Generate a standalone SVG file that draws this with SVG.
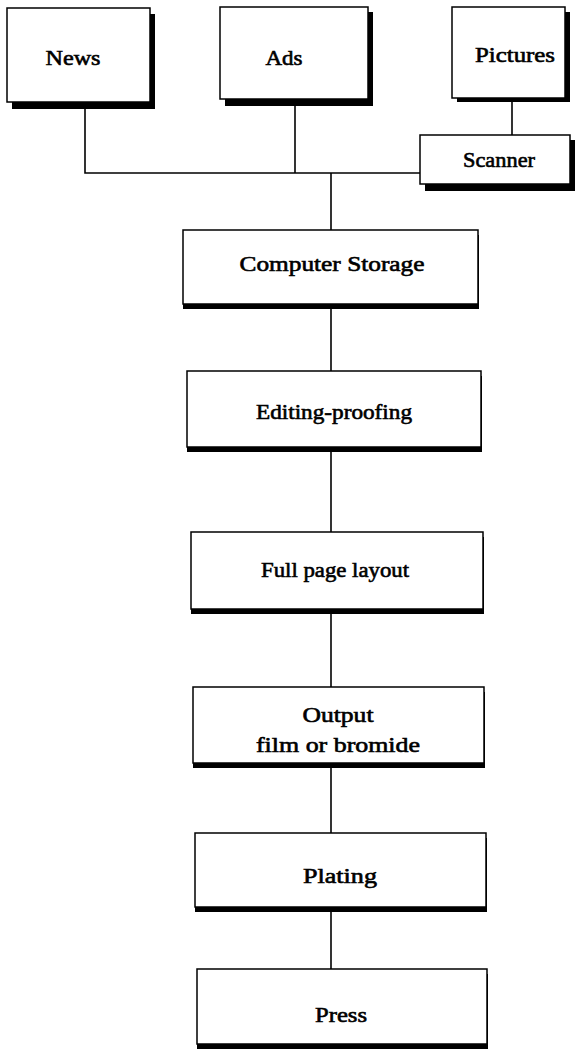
<svg xmlns="http://www.w3.org/2000/svg" width="583" height="1049" viewBox="0 0 583 1049">
<style>
.box{fill:#fff;stroke:#000;stroke-width:1.5}
.sh{fill:#000}
.lbl{font-family:"Liberation Serif","Times New Roman",serif;font-size:21px;font-weight:normal;fill:#000;stroke:#000;stroke-width:0.6;text-anchor:middle}
.con{stroke:#000;stroke-width:1.6;fill:none}
</style>
<rect width="583" height="1049" fill="#fff"/>
<g id="connectors">
<path class="con" d="M85 105V173H420"/>
<path class="con" d="M295 102V173"/>
<path class="con" d="M512 100V135"/>
<path class="con" d="M331 173V230"/>
<path class="con" d="M331 308V371"/>
<path class="con" d="M331 450V532"/>
<path class="con" d="M331 613V687"/>
<path class="con" d="M331 767V833"/>
<path class="con" d="M331 910V969"/>
</g>
<g id="news">
<rect class="sh" x="12" y="14" width="143" height="95"/>
<rect class="box" x="7" y="8" width="143" height="94"/>
<text class="lbl" x="73" y="65" textLength="55" lengthAdjust="spacingAndGlyphs">News</text>
</g>
<g id="ads">
<rect class="sh" x="225" y="12" width="148" height="94"/>
<rect class="box" x="220" y="7" width="148" height="92"/>
<text class="lbl" x="284" y="65" textLength="37" lengthAdjust="spacingAndGlyphs">Ads</text>
</g>
<g id="pictures">
<rect class="sh" x="457" y="12" width="113" height="90"/>
<rect class="box" x="452" y="7" width="113" height="91"/>
<text class="lbl" x="515" y="62" textLength="80" lengthAdjust="spacingAndGlyphs">Pictures</text>
</g>
<g id="scanner">
<rect class="sh" x="425" y="140" width="150" height="51"/>
<rect class="box" x="420" y="135" width="150" height="49"/>
<text class="lbl" x="499" y="167" textLength="72" lengthAdjust="spacingAndGlyphs">Scanner</text>
</g>
<g id="computer-storage">
<rect class="sh" x="183" y="235" width="296" height="74"/>
<rect class="box" x="183" y="230" width="295" height="74"/>
<text class="lbl" x="332" y="271" textLength="185" lengthAdjust="spacingAndGlyphs">Computer Storage</text>
</g>
<g id="editing-proofing">
<rect class="sh" x="187" y="376" width="295" height="76"/>
<rect class="box" x="187" y="371" width="294" height="76"/>
<text class="lbl" x="334" y="419" textLength="156" lengthAdjust="spacingAndGlyphs">Editing-proofing</text>
</g>
<g id="full-page-layout">
<rect class="sh" x="191" y="537" width="293" height="77"/>
<rect class="box" x="191" y="532" width="292" height="77"/>
<text class="lbl" x="335" y="577" textLength="148" lengthAdjust="spacingAndGlyphs">Full page layout</text>
</g>
<g id="output">
<rect class="sh" x="193" y="692" width="292" height="76"/>
<rect class="box" x="193" y="687" width="291" height="76"/>
<text class="lbl" x="338" y="722" textLength="71" lengthAdjust="spacingAndGlyphs">Output</text>
<text class="lbl" x="338" y="752" textLength="164" lengthAdjust="spacingAndGlyphs">film or bromide</text>
</g>
<g id="plating">
<rect class="sh" x="195" y="838" width="292" height="74"/>
<rect class="box" x="195" y="833" width="291" height="74"/>
<text class="lbl" x="340" y="883" textLength="74" lengthAdjust="spacingAndGlyphs">Plating</text>
</g>
<g id="press">
<rect class="sh" x="197" y="974" width="291" height="75"/>
<rect class="box" x="197" y="969" width="290" height="75"/>
<text class="lbl" x="341" y="1022" textLength="52" lengthAdjust="spacingAndGlyphs">Press</text>
</g>
</svg>
